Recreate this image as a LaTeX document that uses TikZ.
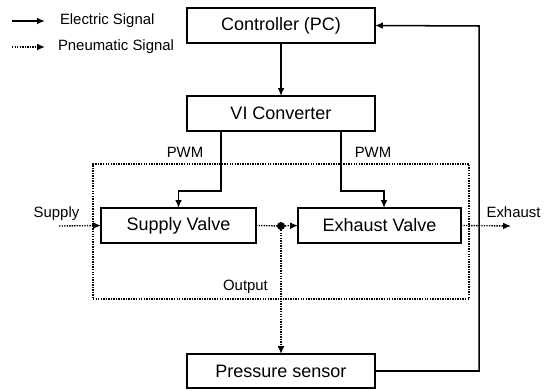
\documentclass[tikz,border=0pt]{standalone}
\usepackage{fontspec}
\setmainfont{Liberation Sans}
\usetikzlibrary{arrows.meta}
\newcommand{\blkfont}{\fontsize{12.8pt}{14pt}\selectfont}
\newcommand{\labfont}{\fontsize{10.6pt}{12pt}\selectfont}
\begin{document}
\begin{tikzpicture}[x=0.25mm,y=-0.25mm,line width=0.38mm,line join=miter,
  every node/.style={inner sep=0pt,outer sep=0pt},
  blk/.style={draw,minimum width=188*0.25mm,minimum height=35*0.25mm,font=\blkfont},
  lab/.style={font=\labfont},
  esig/.style={-{Latex[length=5.6pt,width=4.8pt]}},
  pline/.style={dash pattern=on 1pt off 0.8pt,line width=0.34mm},
  psig/.style={pline,-{Latex[length=5.6pt,width=4.8pt]}}]
  % ---- canvas: reference 551x390 px, one unit = one px, y down ----
  \path[use as bounding box] (0,0) rectangle (551,390);
  % ---- legend ----
  \coordinate (le0) at (12,21);  \coordinate (le1) at (45,21);
  \coordinate (lp0) at (12,47);  \coordinate (lp1) at (45,47);
  \draw[esig] (le0) -- (le1);
  \draw[psig] (lp0) -- (lp1);
  \node[lab,anchor=west] (lel) at (60,21) {Electric Signal};
  \node[lab,anchor=west] (lpl) at (58,47) {Pneumatic Signal};
  % ---- blocks (centres in px) ----
  \node[blk] (pc) at (281,25.5) {Controller (PC)};
  \node[blk] (vi) at (281,113.5) {VI Converter};
  \node[blk,minimum width=155*0.25mm] (sv) at (178.5,225.5) {Supply Valve};
  \node[blk,minimum width=163*0.25mm] (ev) at (379.5,225.5) {Exhaust Valve};
  \node[blk,minimum height=34*0.25mm] (ps) at (281,371) {Pressure sensor};
  % ---- dotted valve unit ----
  \node[draw,pline,minimum width=376*0.25mm,minimum height=135*0.25mm] (unit) at (281,231.5) {};
  % ---- junction dot and free ends ----
  \node[circle,fill,minimum size=8*0.25mm] (jn) at (281,226) {};
  \coordinate (pwmA) at (221,191);
  \coordinate (pwmB) at (341,191);
  \coordinate (supin) at (59,226);
  \coordinate (exout) at (511,226);
  \coordinate (fbk) at (479,26);
  % ---- electric signals ----
  \draw[esig] (pc) -- (vi);
  \draw[esig] (vi.south -| pwmA) -- (pwmA) -| (sv.north);
  \draw[esig] (vi.south -| pwmB) -- (pwmB) -| ([xshift=4.5*0.25mm]ev.north);
  \draw[esig] (ps.east) -| (fbk) -- (pc.east);
  % ---- pneumatic signals ----
  \draw[psig] (supin) -- (sv.west);
  \draw[pline] (sv.east) -- (jn);
  \draw[psig] (jn) -- (ev.west);
  \draw[psig] (jn) -- (ps.north);
  \draw[psig] (ev.east) -- (exout);
  % ---- labels ----
  \node[lab] (pwml) at (185,152) {PWM};
  \node[lab] (pwmr) at (373,152) {PWM};
  \node[lab] (supl) at (56.5,214) {Supply};
  \node[lab] (exl) at (513.5,212) {Exhaust};
  \node[lab] (outl) at (245.5,287) {Output};
\end{tikzpicture}
\end{document}
